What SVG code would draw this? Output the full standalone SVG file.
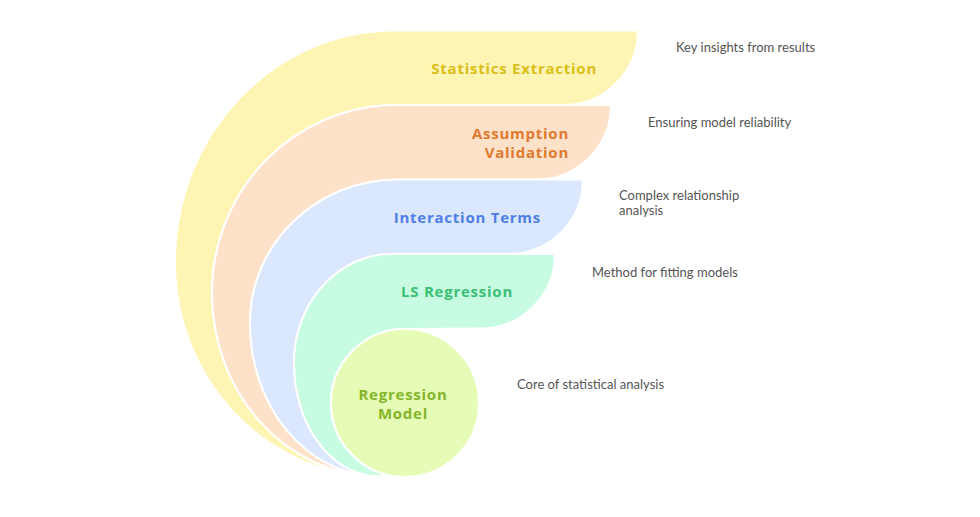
<svg xmlns="http://www.w3.org/2000/svg" width="980" height="517" viewBox="0 0 980 517">
  <style>
    .band { stroke: #ffffff; stroke-width: 2; stroke-linejoin: round; }
    .title { font-family: "Open Sans", Lato, sans-serif; font-weight: 700; font-size: 15px; letter-spacing: 0.75px; }
    .desc { font-family: Lato, "Noto Sans", sans-serif; font-size: 13px; fill: #555555; }
  </style>
  <rect width="980" height="517" fill="#ffffff"/>
  <g id="statistics-extraction">
    <path class="band" fill="#FEF5B4" d="M378,476 C266,476 175,380 175,262 C175,134.2 273.6,30.5 395,30.5 L638,30.5 A74.5,74.5 0 0 1 563.5,105 L397,105 C294.9,105 212,189.2 212,293 C212,394 286.4,476 378,476 Z"/>
    <text class="title" x="597" y="74" text-anchor="end" fill="#D9BF18">Statistics Extraction</text>
    <text class="desc" x="676" y="52">Key insights from results</text>
  </g>
  <g id="assumption-validation">
    <path class="band" fill="#FDE1C9" d="M378,476 C286.4,476 212,394 212,293 C212,189.2 294.9,105 397,105 L611,105 A74.5,74.5 0 0 1 536.5,179.5 L398,179.5 C316.3,179.5 250,243.8 250,323 C250,407.5 307.3,476 378,476 Z"/>
    <text class="title" x="569" text-anchor="end" fill="#E07A2F"><tspan x="569" y="139">Assumption</tspan><tspan x="569" y="158">Validation</tspan></text>
    <text class="desc" x="648" y="127">Ensuring model reliability</text>
  </g>
  <g id="interaction-terms">
    <path class="band" fill="#DBE7FD" d="M378,476 C307.3,476 250,407.5 250,323 C250,243.8 316.3,179.5 398,179.5 L583,179.5 A74.5,74.5 0 0 1 508.5,254 L392,254 C337.9,254 294,302.8 294,363 C294,425.4 331.6,476 378,476 Z"/>
    <text class="title" x="541" y="223" text-anchor="end" fill="#4D7FE6">Interaction Terms</text>
    <text class="desc" x="619"><tspan x="619" y="199.5">Complex relationship</tspan><tspan x="619" y="215">analysis</tspan></text>
  </g>
  <g id="ls-regression">
    <path class="band" fill="#C7FCE2" d="M378,476 C331.6,476 294,425.4 294,363 C294,302.8 337.9,254 392,254 L555,254 A74.5,74.5 0 0 1 480.5,328.5 L405,329 A74,74 0 0 0 405,477 Z"/>
    <text class="title" x="513" y="297" text-anchor="end" fill="#3BBF74">LS Regression</text>
    <text class="desc" x="592" y="277">Method for fitting models</text>
  </g>
  <g id="regression-model">
    <circle class="band" cx="405" cy="403" r="74" fill="#E6FCB6"/>
    <text class="title" x="403" text-anchor="middle" fill="#84B52A"><tspan x="403" y="400">Regression</tspan><tspan x="403" y="419">Model</tspan></text>
    <text class="desc" x="517" y="389">Core of statistical analysis</text>
  </g>
</svg>
